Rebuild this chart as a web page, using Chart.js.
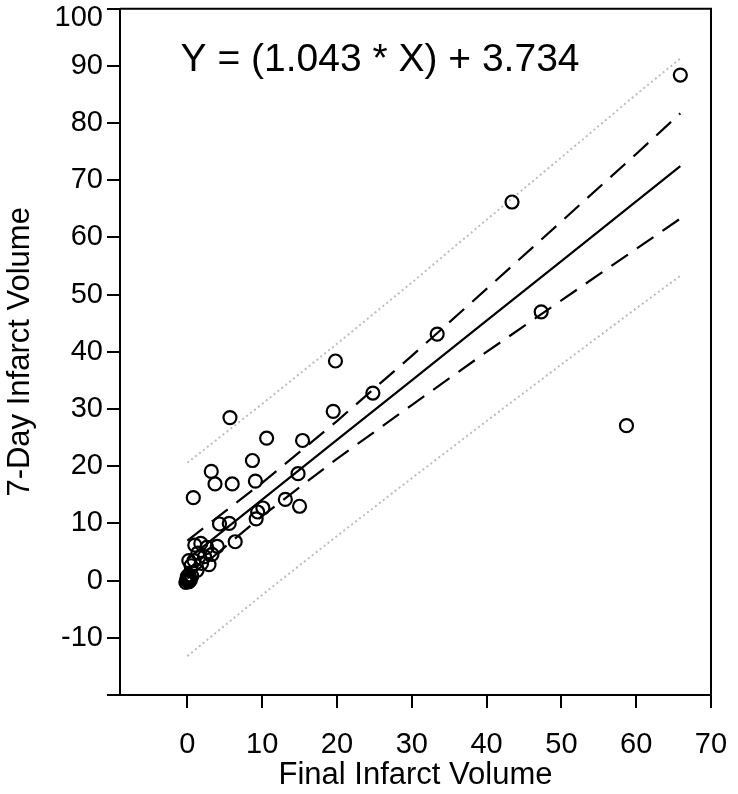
<!DOCTYPE html>
<html>
<head>
<meta charset="utf-8">
<script src="https://cdn.jsdelivr.net/npm/chart.js@4.4.0/dist/chart.umd.min.js"></script>
<style>
    html, body { margin: 0; padding: 0; background: #fff; }
    #wrap { width: 738px; height: 794px; position: relative; }
</style>
</head>
<body>
<div id="wrap"><canvas id="regChart"></canvas></div>
<script>
// Scatter points
const finalVolume = [65.9, 43.4, 47.3, 58.7, 33.4, 24.8, 19.8, 19.5, 15.4, 14.8, 13.1, 15.0,
    5.7, 10.6, 8.7, 3.2, 3.7, 6.0, 9.1, 0.8, 9.2, 9.4, 10.1, 4.3, 5.6, 6.4, 4.0,
    1.0, 1.8, 2.6, 1.4, 2.3, 3.3, 0.9, 1.9, 2.9, 1.3, 0.5, 0.2, 0.2, 0.6,
    0.0, 0.1, 0.2, -0.1, 0.3, 0.0, 0.4, -0.2];
const dayVolume = [88.4, 66.2, 47.0, 27.1, 43.1, 32.8, 38.4, 29.6, 24.5, 18.7, 14.2, 13.0,
    28.5, 24.9, 21.0, 19.1, 16.9, 16.9, 17.4, 14.5, 10.8, 12.0, 12.7, 9.9, 10.0, 6.8, 6.0,
    6.2, 6.5, 5.8, 4.8, 4.2, 4.6, 3.5, 3.0, 2.8, 1.8, 2.6, 3.5, 1.0, 0.8,
    0.0, 0.3, -0.2, 0.1, 0.5, 0.7, 0.1, -0.3];

// Regression line, confidence and prediction bands
const bandX = [0, 10, 20, 30, 40, 50, 60, 65.9];
const fitLine = [3.73, 14.16, 24.59, 35.02, 45.45, 55.88, 66.31, 72.47];
const ciUpper = [7.0, 17.1, 27.9, 39.3, 51.0, 62.8, 74.6, 81.7];
const ciLower = [0.4, 11.3, 21.3, 30.7, 40.0, 49.0, 58.0, 63.3];
const piUpper = [20.6, 30.9, 41.4, 52.1, 63.1, 74.0, 85.0, 91.3];
const piLower = [-13.2, -2.5, 7.8, 17.9, 27.9, 37.8, 47.6, 53.3];

const xTicks = [0, 10, 20, 30, 40, 50, 60, 70];
const yTicks = [-20, -10, 0, 10, 20, 30, 40, 50, 60, 70, 80, 90, 100];
const equationText = 'Y = (1.043 * X) + 3.734';
const equationAt = [-0.9, 91];

const FONT = '"Liberation Sans", Arial, Helvetica, sans-serif';

const toPoints = (xs, ys) => xs.map((x, i) => ({ x: x, y: ys[i] }));

function lineSet(ys, color, width, dash) {
    return {
        data: toPoints(bandX, ys),
        showLine: true,
        borderColor: color,
        borderWidth: width,
        borderDash: dash,
        pointRadius: 0,
        fill: false,
        tension: 0
    };
}

// top and right edges of the frame, plus the equation
const framePlugin = {
    id: 'frame',
    afterDraw(chart) {
        const { ctx, chartArea: a } = chart;
        ctx.save();
        ctx.strokeStyle = '#000';
        ctx.lineWidth = 2;
        ctx.beginPath();
        ctx.moveTo(a.left, a.top);
        ctx.lineTo(a.right, a.top);
        ctx.lineTo(a.right, a.bottom);
        ctx.stroke();

        ctx.fillStyle = '#000';
        ctx.font = '39px ' + FONT;
        ctx.textBaseline = 'middle';
        ctx.textAlign = 'left';
        ctx.fillText(equationText,
            chart.scales.x.getPixelForValue(equationAt[0]),
            chart.scales.y.getPixelForValue(equationAt[1]));
        ctx.restore();
    }
};

new Chart(document.getElementById('regChart'), {
    type: 'scatter',
    data: {
        datasets: [
            {
                data: toPoints(finalVolume, dayVolume),
                pointStyle: 'circle',
                pointRadius: 6.5,
                borderWidth: 2.2,
                borderColor: '#000',
                backgroundColor: 'rgba(0,0,0,0)'
            },
            lineSet(fitLine, '#000', 2.2, []),
            lineSet(ciUpper, '#000', 2.2, [20, 11]),
            lineSet(ciLower, '#000', 2.2, [20, 11]),
            lineSet(piUpper, '#bdbdbd', 2, [2, 3]),
            lineSet(piLower, '#bdbdbd', 2, [2, 3])
        ]
    },
    options: {
        responsive: true,
        maintainAspectRatio: false,
        animation: false,
        events: [],
        layout: { padding: { left: 0, right: 27, top: 5, bottom: 0 } },
        plugins: {
            legend: { display: false },
            tooltip: { enabled: false }
        },
        scales: {
            x: {
                type: 'linear',
                min: -9,
                max: 70,
                afterBuildTicks: s => { s.ticks = xTicks.map(v => ({ value: v })); },
                afterFit: s => { s.height = 99; s.paddingLeft = 0; s.paddingRight = 0; },
                border: { display: true, color: '#000', width: 2 },
                grid: { drawOnChartArea: false, drawTicks: true, tickLength: 13, color: '#000', lineWidth: 2 },
                ticks: {
                    color: '#000',
                    padding: 20,
                    maxRotation: 0,
                    autoSkip: false,
                    font: { family: FONT, size: 29 }
                },
                title: {
                    display: true,
                    text: 'Final Infarct Volume',
                    color: '#000',
                    font: { family: FONT, size: 31 },
                    padding: { top: 0, bottom: 0 }
                }
            },
            y: {
                type: 'linear',
                min: -20,
                max: 100,
                afterBuildTicks: s => { s.ticks = yTicks.map(v => ({ value: v })); },
                afterFit: s => { s.width = 120; s.paddingTop = 0; s.paddingBottom = 0; },
                border: { display: true, color: '#000', width: 2 },
                grid: { drawOnChartArea: false, drawTicks: true, tickLength: 13, color: '#000', lineWidth: 2 },
                ticks: {
                    color: '#000',
                    padding: 4,
                    autoSkip: false,
                    // top label sits below its tick, the -20 tick has no label
                    callback: v => v === -20 ? '' : (v === 100 ? ['', '100'] : String(v)),
                    font: c => ({
                        family: FONT,
                        size: 29,
                        lineHeight: (c.tick && c.tick.value === 100) ? 0.62 : 1.2
                    })
                },
                title: {
                    display: true,
                    text: '7-Day Infarct Volume',
                    color: '#000',
                    font: { family: FONT, size: 31 },
                    padding: { top: 2, bottom: 0 }
                }
            }
        }
    },
    plugins: [framePlugin]
});
</script>
</body>
</html>
